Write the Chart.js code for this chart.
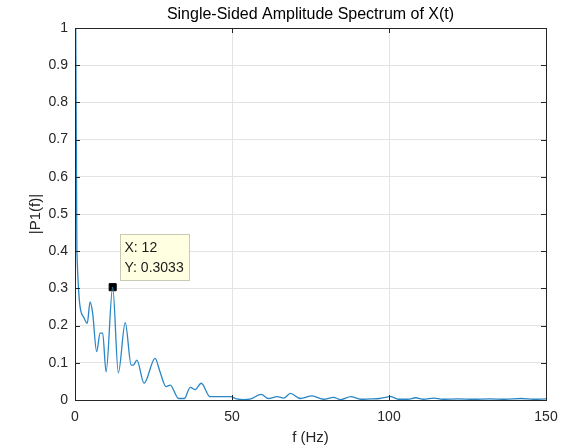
<!DOCTYPE html>
<html>
<head>
<meta charset="utf-8">
<script src="https://cdn.jsdelivr.net/npm/chart.js@4/dist/chart.umd.min.js"></script>
<style>
  body { margin: 0; background: #fff; }
  #wrap { width: 562px; height: 448px; }
</style>
</head>
<body>
<div id="wrap"><canvas id="c" width="562" height="448"></canvas></div>
<script>
const freq = [0, 0.6, 2.65, 3.9, 4.8, 5.6, 6.9, 8.0, 8.8, 9.9, 12, 13.8, 16, 17.9, 18.6, 19.7, 22, 25.5, 27.1, 29,
  30.3, 33, 34.8, 36.7, 38.3, 40.2, 43, 46, 49.5, 51.5, 53.6, 56, 59.3, 61.6, 64.4, 66.5, 68.6, 71.8, 75.5, 79.2,
  82.3, 84.6, 87.8, 91, 94, 97, 100.5, 103, 106, 108.5, 111, 114.3, 117, 122, 127, 132, 137, 142, 146, 150];
const amp = [1.5, 0.4, 0.224, 0.206, 0.264, 0.235, 0.13, 0.18, 0.18, 0.076, 0.3033, 0.073, 0.208, 0.094, 0.094, 0.107, 0.045, 0.112, 0.075, 0.036,
  0.04, 0.004, 0.004, 0.034, 0.028, 0.045, 0.009, 0.009, 0.009, 0.003, 0.001, 0.003, 0.015, 0.004, 0.009, 0.005, 0.018, 0.004, 0.011, 0.002,
  0.007, 0.001, 0.009, 0.002, 0.003, 0.004, 0.009, 0.002, 0.002, 0.006, 0.002, 0.005, 0.002, 0.003, 0.002, 0.003, 0.002, 0.004, 0.002, 0.003];

// Data tip
const tipX = [12];
const tipY = [0.3033];

const xTicks = [0, 50, 100, 150];
const yTicks = [0, 0.1, 0.2, 0.3, 0.4, 0.5, 0.6, 0.7, 0.8, 0.9, 1];

const titleText = 'Single-Sided Amplitude Spectrum of X(t)';
const xLabel = 'f (Hz)';
const yLabel = '|P1(f)|';

const axisColor = '#262626';
const font = 'Arial, "Liberation Sans", sans-serif';

const spectrumPoints = freq.map((f, i) => ({ x: f, y: amp[i] }));
const tipPoints = tipX.map((f, i) => ({ x: f, y: tipY[i] }));

// Dibuja caja, ticks interiores, títulos y el data tip
const matlabLook = {
  id: 'matlabLook',
  afterDraw(chart) {
    const ctx = chart.ctx;
    const a = chart.chartArea;
    const xs = chart.scales.x, ys = chart.scales.y;
    ctx.save();
    ctx.strokeStyle = axisColor;
    ctx.lineWidth = 1;
    ctx.strokeRect(Math.round(a.left) + 0.5, Math.round(a.top) + 0.5, Math.round(a.right - a.left), Math.round(a.bottom - a.top));
    // ticks hacia dentro
    ctx.beginPath();
    xTicks.forEach(v => {
      const px = Math.round(xs.getPixelForValue(v)) + 0.5;
      ctx.moveTo(px, a.bottom); ctx.lineTo(px, a.bottom - 5);
      ctx.moveTo(px, a.top); ctx.lineTo(px, a.top + 5);
    });
    yTicks.forEach(v => {
      const py = Math.round(ys.getPixelForValue(v)) + 0.5;
      ctx.moveTo(a.left, py); ctx.lineTo(a.left + 5, py);
      ctx.moveTo(a.right, py); ctx.lineTo(a.right - 5, py);
    });
    ctx.stroke();

    // títulos
    ctx.fillStyle = '#000';
    ctx.textAlign = 'center';
    ctx.textBaseline = 'middle';
    ctx.font = '16px ' + font;
    ctx.fillText(titleText, (a.left + a.right) / 2, 15);
    ctx.fillStyle = axisColor;
    ctx.font = '15px ' + font;
    ctx.fillText(xLabel, (a.left + a.right) / 2, 438);
    ctx.save();
    ctx.translate(36, (a.top + a.bottom) / 2);
    ctx.rotate(-Math.PI / 2);
    ctx.fillText(yLabel, 0, 0);
    ctx.restore();

    // caja del data tip
    const meta = chart.getDatasetMeta(1);
    meta.data.forEach((pt, i) => {
      const bx = Math.round(pt.x) + 7 + 0.5, by = Math.round(pt.y) - 53 + 0.5;
      ctx.fillStyle = '#ffffe1';
      ctx.strokeStyle = '#c8c8b4';
      ctx.fillRect(bx, by, 69, 46);
      ctx.strokeRect(bx, by, 69, 46);
      ctx.fillStyle = '#1a1a1a';
      ctx.textAlign = 'left';
      ctx.font = '14px ' + font;
      ctx.fillText('X: ' + tipX[i], bx + 4, by + 14);
      ctx.fillText('Y: ' + tipY[i], bx + 4, by + 34);
    });
    ctx.restore();
  }
};

new Chart(document.getElementById('c'), {
  type: 'line',
  data: {
    datasets: [
      {
        data: spectrumPoints,
        borderColor: '#2a86c4',
        borderWidth: 1.3,
        pointRadius: 0,
        cubicInterpolationMode: 'monotone',
        fill: false
      },
      {
        data: tipPoints,
        showLine: false,
        pointStyle: 'rect',
        pointRadius: 5,
        pointBackgroundColor: '#000',
        pointBorderColor: '#000'
      }
    ]
  },
  options: {
    responsive: false,
    animation: false,
    events: [],
    layout: { padding: { top: 28, right: 16, bottom: 0, left: 0 } },
    plugins: { legend: { display: false }, tooltip: { enabled: false }, title: { display: false } },
    scales: {
      x: {
        type: 'linear',
        min: 0, max: 150,
        afterFit: s => { s.height = 48; s.paddingRight = 0; },
        afterBuildTicks: s => { s.ticks = xTicks.map(v => ({ value: v })); },
        grid: { color: '#e3e3e3', drawTicks: false },
        border: { display: false },
        ticks: { color: axisColor, font: { size: 14, family: font }, padding: 9, maxRotation: 0 }
      },
      y: {
        min: 0, max: 1,
        afterFit: s => { s.width = 75; },
        afterBuildTicks: s => { s.ticks = yTicks.map(v => ({ value: v })); },
        grid: { color: '#e3e3e3', drawTicks: false },
        border: { display: false },
        ticks: {
          color: axisColor, font: { size: 14, family: font }, padding: 7,
          callback: v => String(Math.round(v * 10) / 10)
        }
      }
    }
  },
  plugins: [matlabLook]
});
</script>
</body>
</html>
